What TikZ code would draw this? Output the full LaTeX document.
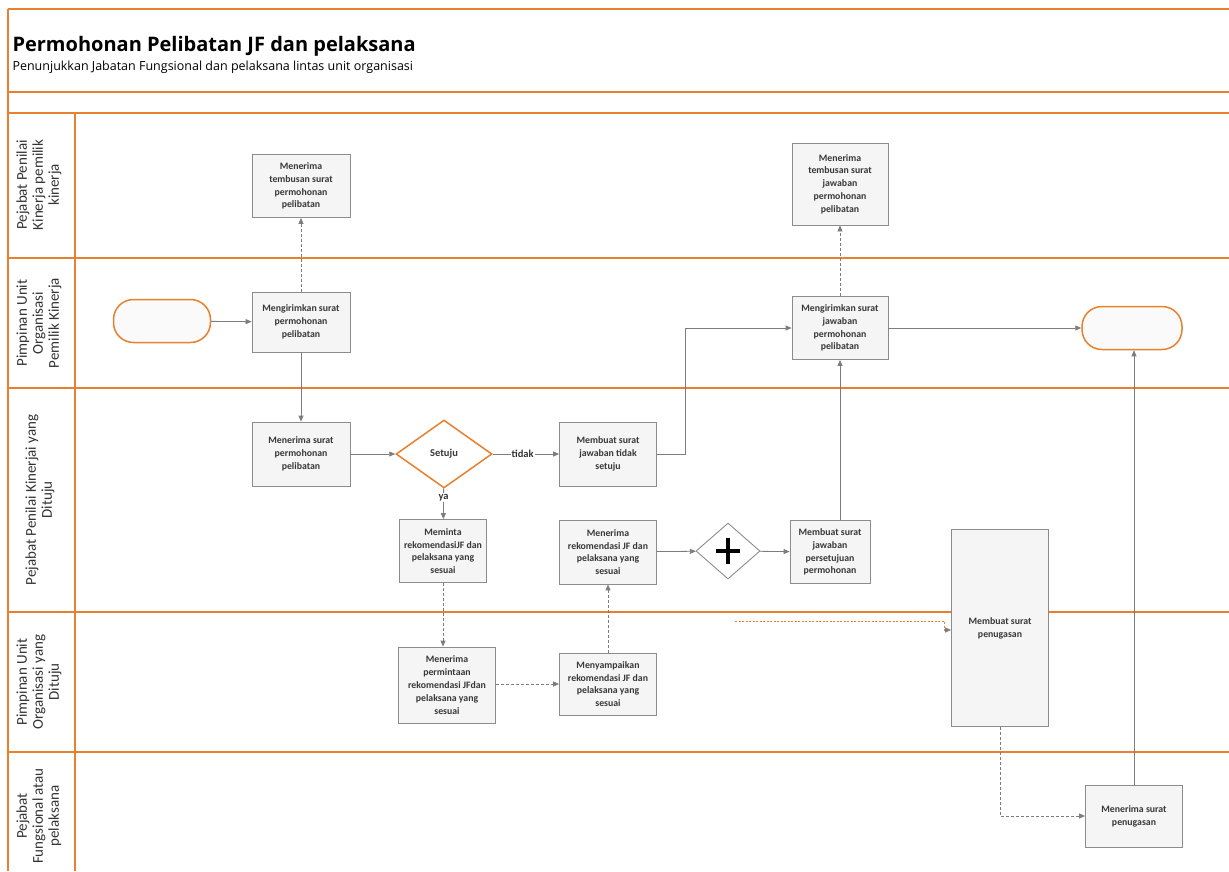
\documentclass[tikz,border=0pt]{standalone}
\usepackage{fontspec}
\setmainfont{Carlito}
\newfontfamily\titlefont{Open Sans}
\usetikzlibrary{shapes.geometric,arrows.meta}
\definecolor{lane}{RGB}{232,128,45}
\definecolor{boxdraw}{RGB}{140,140,140}
\definecolor{boxfill}{RGB}{245,245,245}
\definecolor{flow}{RGB}{125,125,125}
\begin{document}
\begin{tikzpicture}[x=1pt,y=-1pt,
  task/.style={draw=boxdraw, fill=boxfill, line width=0.8pt, align=center, inner sep=2pt,
    font=\fontsize{9.8}{12.8}\selectfont\bfseries, text=black!78},
  pill/.style={draw=lane, line width=1.5pt, rounded corners=20pt, fill=white!96!gray,
    minimum width=97pt, minimum height=43pt},
  gate/.style={diamond, draw=lane, line width=1.5pt, fill=white, inner sep=0pt,
    font=\fontsize{10.5}{12}\selectfont\bfseries, text=black!78},
  pargate/.style={diamond, draw=boxdraw, line width=0.9pt, fill=white, inner sep=0pt},
  seq/.style={draw=flow, line width=0.8pt, -{Triangle[length=6pt,width=5pt]}},
  msg/.style={draw=flow, line width=0.8pt, dash pattern=on 3pt off 2pt, -{Triangle[length=6pt,width=5pt]}},
  lanelab/.style={rotate=90, align=center, font=\fontsize{15}{16}\selectfont, text=black!80},
  lanerule/.style={draw=lane, line width=1.6pt},
  flowlab/.style={fill=white, inner sep=1pt, font=\fontsize{10.5}{12}\selectfont\bfseries, text=black!80}
]
\useasboundingbox (0,0) rectangle (1229,871);
\fill[white] (0,0) rectangle (1229,871);

% frame and lanes
\draw[lanerule] (8,9) -- (1229,9);
\draw[lanerule] (8,92) -- (1229,92);
\draw[lanerule] (8,113) -- (1229,113);
\draw[lanerule] (8,9) -- (8,871);
\draw[lanerule] (75,113) -- (75,871);
\foreach \yy in {258,388,752} \draw[lanerule] (8,\yy) -- (1229,\yy);
\draw[draw=lane, line width=1.3pt] (8,612) -- (1229,612);

% title
\node[anchor=west, font=\titlefont\fontsize{20}{23}\selectfont\bfseries] (title) at (9,46)
  {Permohonan Pelibatan JF dan pelaksana};
\node[anchor=west, font=\titlefont\fontsize{12.5}{14}\selectfont] (subtitle) at (9,67)
  {Penunjukkan Jabatan Fungsional dan pelaksana lintas unit organisasi};

% lane labels
\node[lanelab] (L1) at (39,185) {Pejabat Penilai\\Kinerja pemilik\\kinerja};
\node[lanelab] (L2) at (39,323) {Pimpinan Unit\\Organisasi\\Pemilik Kinerja};
\node[lanelab] (L3) at (40,500) {Pejabat Penilai Kinerjai yang\\Dituju};
\node[lanelab] (L4) at (39,682) {Pimpinan Unit\\Organisasi yang\\Dituju};
\node[lanelab] (L5) at (39,816) {Pejabat\\Fungsional atau\\pelaksana};

% nodes
\node[pill] (start) at (162,321) {};
\node[task, minimum width=98pt, minimum height=60pt] (A1) at (301,322) {Mengirimkan surat\\permohonan\\pelibatan};
\node[task, minimum width=98pt, minimum height=63pt] (T1) at (301,186) {Menerima\\tembusan surat\\permohonan\\pelibatan};
\node[task, minimum width=98pt, minimum height=64pt] (B1) at (301,454) {Menerima surat\\permohonan\\pelibatan};
\node[gate, minimum width=96pt, minimum height=68pt] (D) at (444,454) {Setuju};
\node[task, minimum width=97pt, minimum height=64pt] (C1) at (608,454) {Membuat surat\\jawaban tidak\\setuju};
\node[task, minimum width=87pt, minimum height=63pt] (B2) at (443,551) {Meminta\\rekomendasiJF dan\\pelaksana yang\\sesuai};
\node[task, minimum width=97pt, minimum height=64pt] (C2) at (608,552) {Menerima\\rekomendasi JF dan\\pelaksana yang\\sesuai};
\node[pargate, minimum width=64pt, minimum height=56pt] (P) at (728,551) {};
\draw[line width=3.5pt] ([xshift=-12pt]P.center) -- ([xshift=12pt]P.center);
\draw[line width=3.5pt] ([yshift=-13pt]P.center) -- ([yshift=13pt]P.center);
\node[task, minimum width=80pt, minimum height=63pt] (E) at (830,552) {Membuat surat\\jawaban\\persetujuan\\permohonan};
\node[task, minimum width=96pt, minimum height=63pt] (F) at (840,328) {Mengirimkan surat\\jawaban\\permohonan\\pelibatan};
\node[task, minimum width=96pt, minimum height=82pt] (T2) at (840,184) {Menerima\\tembusan surat\\jawaban\\permohonan\\pelibatan};
\node[pill, minimum width=100pt] (end) at (1132,328) {};
\node[task, minimum width=97pt, minimum height=76pt] (G1) at (447,685) {Menerima\\permintaan\\rekomendasi JFdan\\pelaksana yang\\sesuai};
\node[task, minimum width=97pt, minimum height=62pt] (G2) at (608,684) {Menyampaikan\\rekomendasi JF dan\\pelaksana yang\\sesuai};
\node[task, minimum width=97pt, minimum height=197pt] (H) at (1000,628) {Membuat surat\\penugasan};
\node[task, minimum width=97pt, minimum height=62pt] (K) at (1134,816) {Menerima surat\\penugasan};

% connectors
\draw[seq] (start) -- (A1);
\draw[msg] (A1) -- (T1);
\draw[seq] (A1) -- (B1);
\draw[seq] (B1) -- (D);
\draw[seq] (D) -- node[flowlab, pos=0.45] (tidak) {tidak} (C1);
\draw[seq] (D) -- node[flowlab, pos=0.3] (ya) {ya} (B2);
\draw[seq] (C1.east) -- ++(28,0) |- (F.west);
\draw[msg] (B2.south) -- (B2.south |- G1.north);
\draw[msg] (G1.east |- G2.west) -- (G2.west);
\draw[msg] (G2) -- (C2);
\draw[seq] (C2) -- (P);
\draw[seq] (P) -- (E);
\draw[seq] (E.north -| F.south) -- (F.south);
\draw[msg] (F) -- (T2);
\draw[seq] (F) -- (end);
\draw[seq] (K.north) -- (K.north |- end.south);
\draw[msg] (H.south) |- (K.west);
\coordinate (oin) at (735,621);
\draw[draw=lane, line width=0.8pt, dash pattern=on 2pt off 1.5pt, -{Triangle[length=6pt,width=5pt,color=flow]}]
  (oin) -- (944,621) -- (944,630) -- (H.west |- 944,630);
\end{tikzpicture}
\end{document}
